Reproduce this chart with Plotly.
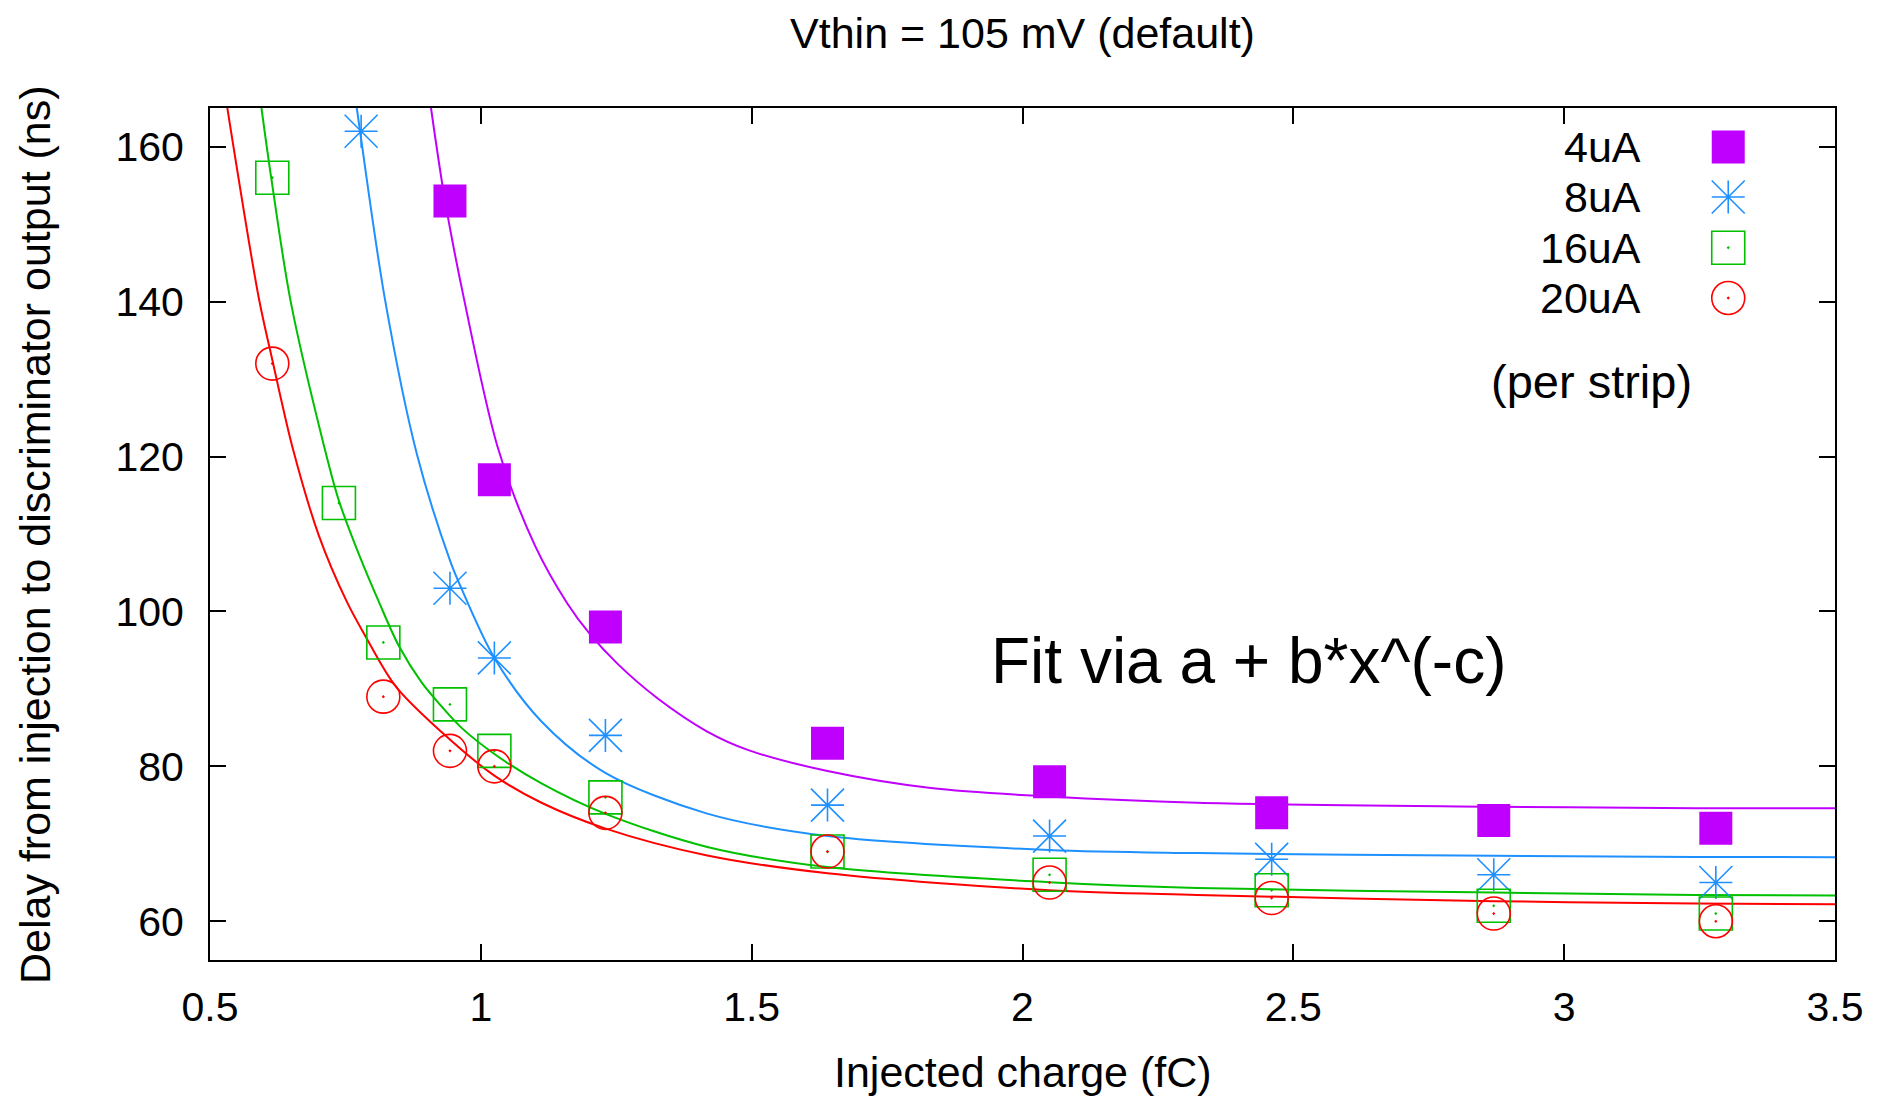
import plotly.graph_objects as go

# ---------------- data ----------------
series_names = ["4uA", "8uA", "16uA", "20uA"]

x_4uA = [0.943, 1.025, 1.23, 1.64, 2.05, 2.46, 2.87, 3.28]
y_4uA = [153, 117, 98, 83, 78, 74, 73, 72]

x_8uA = [0.779, 0.943, 1.025, 1.23, 1.64, 2.05, 2.46, 2.87, 3.28]
y_8uA = [162, 103, 94, 84, 75, 71, 68, 66, 65]

x_16uA = [0.615, 0.738, 0.82, 0.943, 1.025, 1.23, 1.64, 2.05, 2.46, 2.87, 3.28]
y_16uA = [156, 114, 96, 88, 82, 76, 69, 66, 64, 62, 61]

x_20uA = [0.615, 0.82, 0.943, 1.025, 1.23, 1.64, 2.05, 2.46, 2.87, 3.28]
y_20uA = [132, 89, 82, 80, 74, 69, 65, 63, 61, 60]

# fit curves a + b*x^(-c)
fit_x_4uA = [0.908, 0.934, 0.970, 1.032, 1.100, 1.160, 1.200, 1.253, 1.326, 1.418,
             1.494, 1.640, 1.831, 2.049, 2.322, 2.870, 3.242, 3.500]
fit_y_4uA = [165, 153, 140, 121, 108.5, 101, 97.2, 93.2, 88.8, 84.5,
             82.1, 79.4, 77.2, 76.1, 75.3, 74.8, 74.6, 74.6]

fit_x_8uA = [0.771, 0.777, 0.823, 0.882, 0.943, 0.964, 1.025, 1.112, 1.229, 1.418,
             1.640, 2.049, 2.322, 2.870, 3.242, 3.500]
fit_y_8uA = [165, 162, 140.3, 120.3, 106.6, 103.0, 94.0, 85.8, 79.2, 73.9,
             71.0, 69.2, 68.8, 68.45, 68.3, 68.28]

fit_x_16uA = [0.595, 0.613, 0.649, 0.710, 0.737, 0.777, 0.812, 0.849, 0.891, 0.928,
              0.964, 1.025, 1.112, 1.229, 1.418, 1.640, 2.049, 2.322, 2.870, 3.242, 3.500]
fit_y_16uA = [165, 156, 140, 121.5, 114.5, 107, 101.2, 95.5, 90.8, 87.7,
              85.0, 81.6, 77.8, 73.9, 69.6, 67.0, 65.05, 64.3, 63.7, 63.4, 63.33]

fit_x_20uA = [0.532, 0.590, 0.615, 0.653, 0.701, 0.753, 0.787, 0.842, 0.928, 1.025,
              1.112, 1.229, 1.418, 1.640, 2.049, 2.322, 2.870, 3.242, 3.500]
fit_y_20uA = [165, 140.5, 132.5, 121, 109.8, 101.2, 96.8, 90.4, 84.4, 78.8,
              75.3, 72.0, 68.5, 66.2, 64.0, 63.4, 62.6, 62.3, 62.2]

x_tickvals = [0.5, 1, 1.5, 2, 2.5, 3, 3.5]
x_ticktext = ["0.5", "1", "1.5", "2", "2.5", "3", "3.5"]
y_tickvals = [60, 80, 100, 120, 140, 160]
y_ticktext = ["60", "80", "100", "120", "140", "160"]

title_text = "Vthin = 105 mV (default)"
x_title = "Injected charge (fC)"
y_title = "Delay from injection to discriminator output (ns)"
fit_text = "Fit via a + b*x^(-c)"
note_text = "(per strip)"

# ---------------- styles ----------------
FONT = "Liberation Sans, Arial, Helvetica, sans-serif"
PURPLE = "#C000FF"
BLUE = "#1E90FF"
GREEN = "#00C000"
RED = "#FF0000"
MS = 33

fig = go.Figure()

# fit curves
for fx, fy, col in [(fit_x_4uA, fit_y_4uA, PURPLE), (fit_x_8uA, fit_y_8uA, BLUE),
                    (fit_x_16uA, fit_y_16uA, GREEN), (fit_x_20uA, fit_y_20uA, RED)]:
    fig.add_trace(go.Scatter(x=fx, y=fy, mode="lines",
                             line=dict(color=col, width=2, shape="spline", smoothing=0.9),
                             showlegend=False, hoverinfo="skip"))


def point_traces(xs, ys, which, xaxis="x", yaxis="y"):
    tr = []
    if which == 0:
        tr.append(go.Scatter(x=xs, y=ys, mode="markers", xaxis=xaxis, yaxis=yaxis,
                             marker=dict(symbol="square", size=MS, color=PURPLE,
                                         line=dict(width=0))))
    elif which == 1:
        tr.append(go.Scatter(x=xs, y=ys, mode="markers", xaxis=xaxis, yaxis=yaxis,
                             marker=dict(symbol="cross-thin", size=MS / 1.4, color=BLUE,
                                         line=dict(width=1.6, color=BLUE))))
        tr.append(go.Scatter(x=xs, y=ys, mode="markers", xaxis=xaxis, yaxis=yaxis,
                             marker=dict(symbol="x-thin", size=MS, color=BLUE,
                                         line=dict(width=1.6, color=BLUE))))
        tr.append(go.Scatter(x=xs, y=ys, mode="markers", xaxis=xaxis, yaxis=yaxis,
                             marker=dict(symbol="circle", size=4, color=BLUE,
                                         line=dict(width=0))))
    elif which == 2:
        tr.append(go.Scatter(x=xs, y=ys, mode="markers", xaxis=xaxis, yaxis=yaxis,
                             marker=dict(symbol="square-open-dot", size=MS, color=GREEN,
                                         line=dict(width=1.6))))
    else:
        tr.append(go.Scatter(x=xs, y=ys, mode="markers", xaxis=xaxis, yaxis=yaxis,
                             marker=dict(symbol="circle-open-dot", size=MS, color=RED,
                                         line=dict(width=1.6))))
    for t in tr:
        t.update(showlegend=False, hoverinfo="skip", cliponaxis=False)
        fig.add_trace(t)


data = [(x_4uA, y_4uA), (x_8uA, y_8uA), (x_16uA, y_16uA), (x_20uA, y_20uA)]
for i, (xs, ys) in enumerate(data):
    point_traces(xs, ys, i)

# key (gnuplot style: label left of symbol), drawn on an overlay axis spanning the plot area
KEY_X = 0.9343
KEY_ROWS = [0.9542, 0.8955, 0.8360, 0.7770]
KEY_TEXT_X = 0.8820
for i, name in enumerate(series_names):
    point_traces([KEY_X], [KEY_ROWS[i]], i, xaxis="x2", yaxis="y2")

annotations = []
for i, name in enumerate(series_names):
    annotations.append(dict(x=KEY_TEXT_X, y=KEY_ROWS[i], xref="paper", yref="paper",
                            text=name, showarrow=False, xanchor="right", yanchor="middle",
                            font=dict(family=FONT, size=43, color="black")))
annotations.append(dict(x=0.8500, y=0.6790, xref="paper", yref="paper", text=note_text,
                        showarrow=False, xanchor="center", yanchor="middle",
                        font=dict(family=FONT, size=47, color="black")))
annotations.append(dict(x=0.6389, y=0.3510, xref="paper", yref="paper", text=fit_text,
                        showarrow=False, xanchor="center", yanchor="middle",
                        font=dict(family=FONT, size=64, color="black")))
annotations.append(dict(x=0.5, y=-0.1310, xref="paper", yref="paper", text=x_title,
                        showarrow=False, xanchor="center", yanchor="middle",
                        font=dict(family=FONT, size=43, color="black")))
annotations.append(dict(x=-0.1077, y=0.5, xref="paper", yref="paper", text=y_title,
                        showarrow=False, xanchor="center", yanchor="middle", textangle=-90,
                        font=dict(family=FONT, size=43, color="black")))

axis_common = dict(showline=True, linecolor="black", linewidth=2, mirror="allticks",
                   ticks="inside", ticklen=16, tickwidth=1.5, tickcolor="black",
                   showgrid=False, zeroline=False,
                   tickfont=dict(family=FONT, size=41, color="black"))

fig.update_layout(
    width=1868, height=1090,
    margin=dict(l=202, r=36, t=100, b=138, pad=0),
    paper_bgcolor="white", plot_bgcolor="white",
    showlegend=False,
    title=dict(text=title_text, x=0.5, xref="paper", y=1 - 25 / 1090, yref="container",
               xanchor="center", yanchor="middle",
               font=dict(family=FONT, size=43, color="black")),
    xaxis=dict(range=[0.5, 3.5], tickvals=x_tickvals, ticktext=x_ticktext,
               ticklabelstandoff=10, **axis_common),
    yaxis=dict(range=[55, 165], tickvals=y_tickvals, ticktext=y_ticktext,
               ticklabelstandoff=16, **axis_common),
    xaxis2=dict(range=[0, 1], overlaying="x", anchor="y2", visible=False),
    yaxis2=dict(range=[0, 1], overlaying="y", anchor="x2", visible=False),
    annotations=annotations,
)

fig.write_html("out.html")
